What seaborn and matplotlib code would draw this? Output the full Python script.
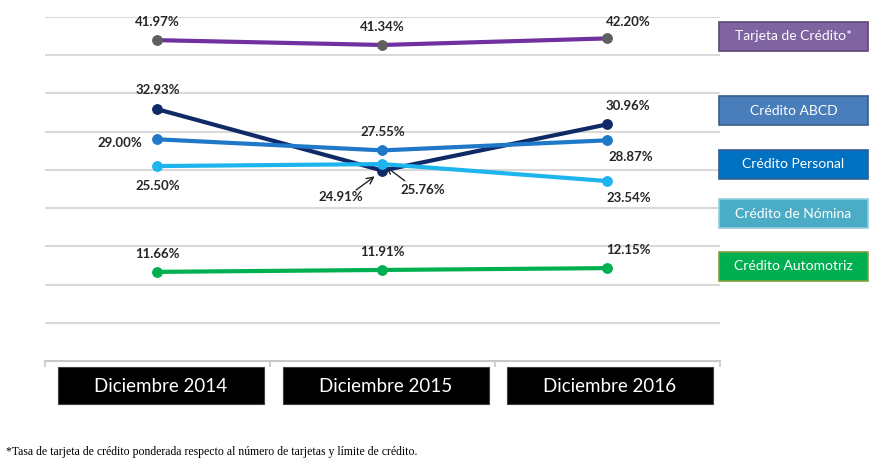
import pandas as pd
import matplotlib.pyplot as plt
import seaborn as sns
from matplotlib.patches import Rectangle

# -----------------------------
# Data
# -----------------------------
periods = ["Diciembre 2014", "Diciembre 2015", "Diciembre 2016"]
series = ["Tarjeta de Crédito*", "Crédito ABCD", "Crédito Personal",
          "Crédito de Nómina", "Crédito Automotriz"]
tarjeta = [41.97, 41.34, 42.20]
abcd = [32.93, 24.91, 30.96]
personal = [29.00, 27.55, 28.87]
nomina = [25.50, 25.76, 23.54]
automotriz = [11.66, 11.91, 12.15]

values = [tarjeta, abcd, personal, nomina, automotriz]
rows = []
for name, vals in zip(series, values):
    for i, v in enumerate(vals):
        rows.append({"serie": name, "x": i, "tasa": v})
df = pd.DataFrame(rows)

line_colors = ["#7030A0", "#0F2A66", "#1F78C8", "#1EB4EE", "#00B050"]
marker_colors = ["#5F5F5F", "#0F2A66", "#1F78C8", "#1EB4EE", "#00B050"]
box_colors = ["#8063A1", "#4A7EBB", "#0070C0", "#4BACC6", "#00B050"]
box_edges = ["#5C4776", "#385D8A", "#2F5F8F", "#93CDDD", "#7F9F3F"]

# -----------------------------
# Figure
# -----------------------------
sns.set_theme(style="white")
plt.rcParams['font.family'] = ['Lato', 'DejaVu Sans']

fig = plt.figure(figsize=(8.78, 4.65), dpi=100)
ax = fig.add_axes([45/878, 1-361/465, 675/878, 344/465])

for k, name in enumerate(series):
    sns.lineplot(data=df[df.serie == name], x="x", y="tasa", ax=ax,
                 color=line_colors[k], lw=3, marker="o", markersize=7,
                 markerfacecolor=marker_colors[k], markeredgecolor=marker_colors[k],
                 zorder=3 + k)

ax.set_xlim(-0.5, 2.5)
ax.set_ylim(0, 45)
ax.set_yticks(range(5, 50, 5))
ax.yaxis.grid(True, color="#D9D9D9", lw=1.5)
ax.set_axisbelow(True)
for s in ["top", "right", "left"]:
    ax.spines[s].set_visible(False)
ax.spines["bottom"].set_color("#C8C8C8")
ax.spines["bottom"].set_linewidth(1.5)
ax.set_xticks([-0.5, 0.5, 1.5, 2.5])
ax.set_xticklabels([])
ax.tick_params(axis="x", bottom=True, length=4, color="#C8C8C8", direction="out")
ax.set_yticklabels([])
ax.tick_params(axis="y", left=False)
ax.set_xlabel("")
ax.set_ylabel("")

# -----------------------------
# Data labels (offsets in points)
# -----------------------------
offsets = [
    [(0, 13), (0, 13), (15, 12)],
    [(0, 14), None, (15, 13)],
    [(-27, -3), (0, 13), (17, -12)],
    [(0, -14), None, (15, -12)],
    [(0, 13), (0, 13), (15, 13)],
]
for k, vals in enumerate(values):
    for i, v in enumerate(vals):
        off = offsets[k][i]
        if off is None:
            continue
        ax.annotate(f"{v:.2f}%", (i, v), xytext=off, textcoords="offset points",
                    ha="center", va="center", fontsize=9.5, fontweight="bold",
                    color="#262626")

# arrowed labels at Diciembre 2015
ax.annotate(f"{abcd[1]:.2f}%", (1, abcd[1]), xytext=(-30, -19), textcoords="offset points",
            ha="center", va="center", fontsize=9.5, fontweight="bold", color="#262626")
ax.annotate("", (1, abcd[1]), xytext=(-19, -14), textcoords="offset points",
            arrowprops=dict(arrowstyle="->", color="#262626", lw=1,
                            shrinkA=0, shrinkB=7))
ax.annotate(f"{nomina[1]:.2f}%", (1, nomina[1]), xytext=(29, -19), textcoords="offset points",
            ha="center", va="center", fontsize=9.5, fontweight="bold", color="#262626")
ax.annotate("", (1, nomina[1]), xytext=(16, -12), textcoords="offset points",
            arrowprops=dict(arrowstyle="->", color="#262626", lw=1,
                            shrinkA=0, shrinkB=3))

# -----------------------------
# Category boxes under the axis
# -----------------------------
box_x = [58, 283, 507]
for i, p in enumerate(periods):
    x0 = box_x[i]
    fig.patches.append(Rectangle((x0/878, 1-404/465), 206/878, 37/465,
                                 transform=fig.transFigure, facecolor="black",
                                 edgecolor="#404040", lw=0.8))
    fig.text((x0+103)/878, 1-386/465, p, color="white", fontsize=13.5,
             ha="center", va="center")

# -----------------------------
# Legend boxes on the right
# -----------------------------
legend_y = [22, 96, 150, 199, 252]
for k, name in enumerate(series):
    y0 = legend_y[k]
    fig.patches.append(Rectangle((719/878, 1-(y0+29)/465), 149/878, 29/465,
                                 transform=fig.transFigure, facecolor=box_colors[k],
                                 edgecolor=box_edges[k], lw=1.2))
    fig.text(793.5/878, 1-(y0+14.5)/465, name, color="white", fontsize=10,
             ha="center", va="center")

# -----------------------------
# Footnote
# -----------------------------
fig.text(6/878, 1-452/465,
         "*Tasa de tarjeta de crédito ponderada respecto al número de tarjetas y límite de crédito.",
         family=["Liberation Serif", "DejaVu Serif"], fontsize=8.5, color="black",
         ha="left", va="center")

fig.savefig("out.png", dpi=100, facecolor="white")
